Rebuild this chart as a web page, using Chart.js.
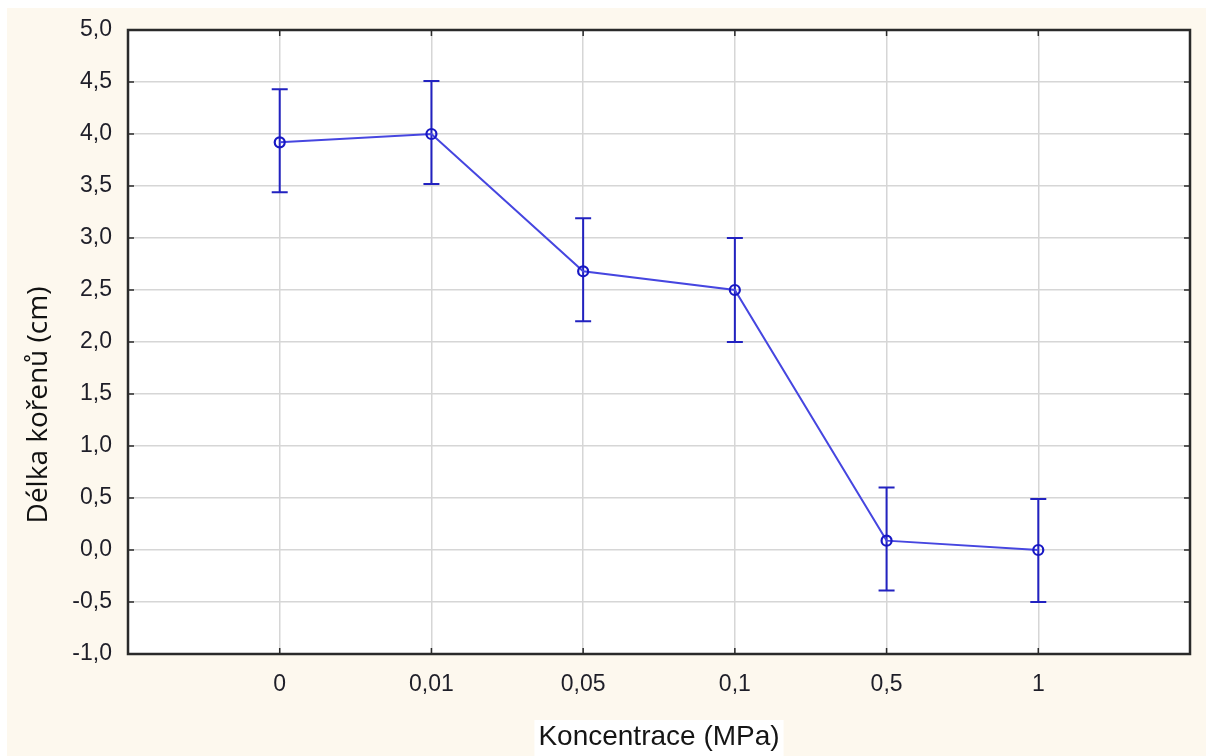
<!DOCTYPE html>
<html>
<head>
<meta charset="utf-8">
<script src="https://cdn.jsdelivr.net/npm/chart.js@4"></script>
<style>
  html, body { margin: 0; padding: 0; background: #ffffff; }
  #wrap { width: 1206px; height: 756px; }
</style>
</head>
<body>
<div id="wrap"><canvas id="c" width="1206" height="756"></canvas></div>
<script>
// ---- data ----
const categories = ['0', '0,01', '0,05', '0,1', '0,5', '1'];
const means = [3.92, 4.00, 2.68, 2.50, 0.09, 0.00];
const lower = [3.44, 3.52, 2.20, 2.00, -0.39, -0.50];
const upper = [4.43, 4.51, 3.19, 3.00, 0.60, 0.49];
const yMin = -1.0, yMax = 5.0, yStep = 0.5;
const xTitle = 'Koncentrace (MPa)';
const yTitle = 'Délka kořenů (cm)';

const points = means.map((v, i) => ({ x: i + 1, y: v }));

const bgPlugin = {
  id: 'bg',
  beforeDraw(chart) {
    const ctx = chart.ctx, a = chart.chartArea;
    ctx.save();
    ctx.fillStyle = '#ffffff';
    ctx.fillRect(0, 0, chart.width, chart.height);
    ctx.fillStyle = '#fdf8ee';
    ctx.fillRect(7, 8, chart.width - 7, chart.height - 8);
    ctx.fillStyle = '#ffffff';
    ctx.fillRect(a.left, a.top, a.right - a.left, a.bottom - a.top);
    ctx.restore();
  }
};

const errPlugin = {
  id: 'err',
  beforeDatasetsDraw(chart) {
    const ctx = chart.ctx, xs = chart.scales.x, ys = chart.scales.y;
    ctx.save();
    ctx.strokeStyle = '#2222c0';
    ctx.lineWidth = 2;
    const cap = 8;
    means.forEach((m, i) => {
      const px = xs.getPixelForValue(i + 1);
      const pl = ys.getPixelForValue(lower[i]);
      const pu = ys.getPixelForValue(upper[i]);
      ctx.beginPath();
      ctx.moveTo(px, pl); ctx.lineTo(px, pu);
      ctx.moveTo(px - cap, pl); ctx.lineTo(px + cap, pl);
      ctx.moveTo(px - cap, pu); ctx.lineTo(px + cap, pu);
      ctx.stroke();
    });
    ctx.restore();
  }
};

const framePlugin = {
  id: 'frame',
  afterDraw(chart) {
    const ctx = chart.ctx, a = chart.chartArea, xs = chart.scales.x, ys = chart.scales.y;
    ctx.save();
    ctx.strokeStyle = '#2a2a2a';
    ctx.lineWidth = 1.5;
    const t = 6;
    ctx.beginPath();
    ys.ticks.forEach(tk => {
      const py = ys.getPixelForValue(tk.value);
      ctx.moveTo(a.left, py); ctx.lineTo(a.left + t, py);
      ctx.moveTo(a.right, py); ctx.lineTo(a.right - t, py);
    });
    xs.ticks.forEach(tk => {
      const px = xs.getPixelForValue(tk.value);
      ctx.moveTo(px, a.bottom); ctx.lineTo(px, a.bottom - t);
      ctx.moveTo(px, a.top); ctx.lineTo(px, a.top + t);
    });
    ctx.stroke();
    ctx.lineWidth = 2.5;
    ctx.strokeRect(a.left, a.top, a.right - a.left, a.bottom - a.top);

    // x axis title on white box
    ctx.textAlign = 'center';
    ctx.textBaseline = 'alphabetic';
    ctx.font = '28px "Liberation Sans", Arial, sans-serif';
    let w = ctx.measureText(xTitle).width;
    const xc = (a.left + a.right) / 2;
    ctx.fillStyle = '#ffffff';
    ctx.fillRect(xc - w / 2 - 4, 720, w + 8, 36);
    ctx.fillStyle = '#151515';
    ctx.fillText(xTitle, xc, 745);

    // y axis title
    ctx.font = '28px "Open Sans", sans-serif';
    ctx.translate(47, 405);
    ctx.rotate(-Math.PI / 2);
    ctx.fillStyle = '#111111';
    ctx.fillText(yTitle, 0, 0);
    ctx.restore();
  }
};

new Chart(document.getElementById('c'), {
  type: 'line',
  data: {
    datasets: [{
      data: points,
      borderColor: '#4646e0',
      borderWidth: 2,
      pointRadius: 5,
      pointBorderWidth: 2.2,
      pointBorderColor: '#1818c4',
      pointBackgroundColor: 'rgba(0,0,0,0)',
      tension: 0,
      fill: false
    }]
  },
  options: {
    responsive: false,
    animation: false,
    devicePixelRatio: 1,
    layout: { padding: { left: 0, top: 30, right: 16, bottom: 0 } },
    plugins: { legend: { display: false }, tooltip: { enabled: false } },
    scales: {
      x: {
        type: 'linear',
        min: 0,
        max: categories.length + 1,
        afterBuildTicks(scale) {
          scale.ticks = categories.map((c, i) => ({ value: i + 1 }));
        },
        afterFit(scale) { scale.height = 102; },
        ticks: {
          autoSkip: false,
          maxRotation: 0,
          padding: 17,
          color: '#1e1e28',
          font: { family: '"Liberation Sans", Arial, sans-serif', size: 23 },
          callback: (v) => categories[Math.round(v) - 1] ?? ''
        },
        grid: { color: '#d6d6d6', lineWidth: 1.5, drawTicks: false },
        border: { display: false }
      },
      y: {
        min: yMin,
        max: yMax,
        afterFit(scale) { scale.width = 128; },
        ticks: {
          stepSize: yStep,
          padding: 16,
          color: '#1e1e28',
          font: { family: '"Liberation Sans", Arial, sans-serif', size: 23 },
          callback: (v) => v.toFixed(1).replace('.', ',')
        },
        grid: { color: '#d6d6d6', lineWidth: 1.5, drawTicks: false },
        border: { display: false }
      }
    }
  },
  plugins: [bgPlugin, errPlugin, framePlugin]
});
</script>
</body>
</html>
